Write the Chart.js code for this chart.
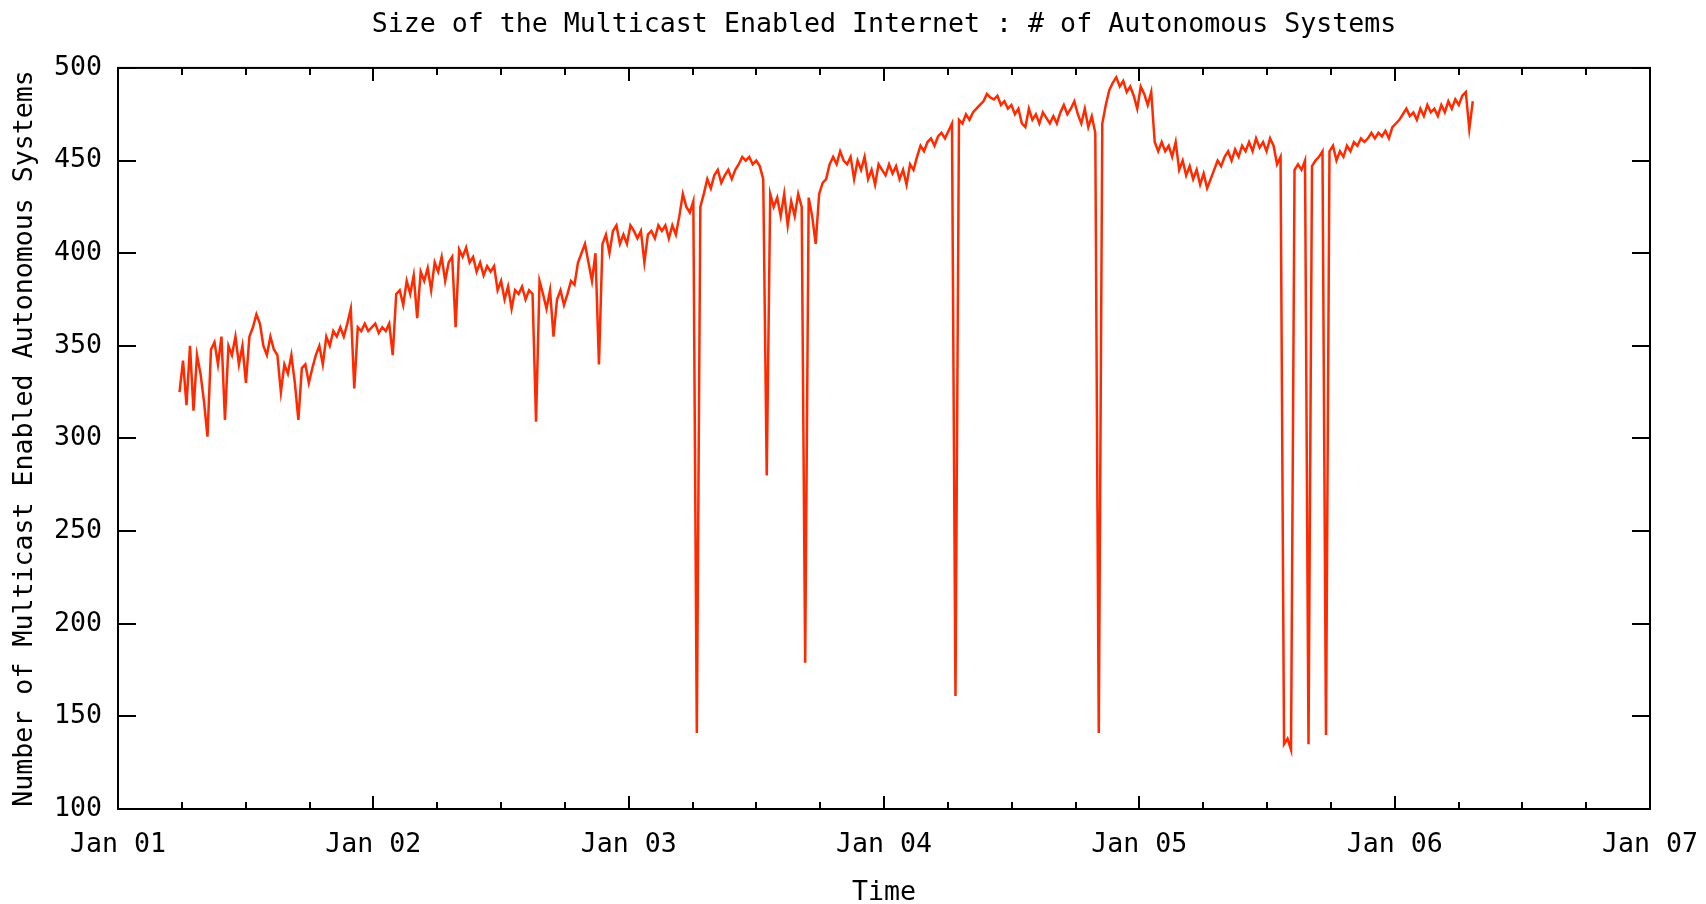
<!DOCTYPE html>
<html>
<head>
<meta charset="utf-8">
<title>Size of the Multicast Enabled Internet</title>
<script src="https://cdn.jsdelivr.net/npm/chart.js@4.4.1/dist/chart.umd.min.js"></script>
<style>
  html, body { margin: 0; padding: 0; background: #fff; }
  #wrap { width: 1706px; height: 904px; }
</style>
</head>
<body>
<div id="wrap"><canvas id="chart" width="1706" height="904"></canvas></div>
<script>
const chartTitle = "Size of the Multicast Enabled Internet : # of Autonomous Systems";
const xTitle = "Time";
const yTitle = "Number of Multicast Enabled Autonomous Systems";

const yearTicks = [2001, 2002, 2003, 2004, 2005, 2006, 2007];
const yTicks = [100, 150, 200, 250, 300, 350, 400, 450, 500];
const minorStep = 0.25;

// samples every 5 days, starting 88 days after Jan 1 2001
const firstDay = 88;
const stepDays = 5;
const asCounts = [
  325, 342, 318, 350, 315, 345, 335, 320, 301, 348,
  352, 340, 355, 310, 350, 345, 355, 340, 350, 330,
  355, 360, 367, 362, 350, 345, 355, 348, 345, 325,
  340, 335, 345, 330, 310, 338, 340, 330, 338, 345,
  350, 340, 355, 350, 358, 355, 360, 355, 362, 370,
  327, 360, 358, 362, 358, 360, 362, 357, 360, 358,
  362, 345, 378, 380, 372, 385, 378, 388, 365, 390,
  385, 392, 380, 395, 390, 398, 385, 395, 398, 360,
  402, 398, 403, 395, 398, 390, 395, 388, 393, 390,
  393, 380, 385, 375, 382, 370, 380, 378, 382, 375,
  380, 378, 309, 385, 378, 370, 380, 355, 375, 380,
  372, 378, 385, 383, 395, 400, 405, 395, 385, 400,
  340, 405, 410, 400, 412, 415, 405, 410, 405, 415,
  412, 408, 412, 395, 410, 412, 408, 415, 412, 415,
  408, 415, 410, 420, 432, 425, 422, 428, 141, 425,
  432, 440, 435, 442, 445, 438, 442, 445, 440, 445,
  448, 452, 450, 452, 448, 450, 447, 440, 280, 432,
  425, 430, 420, 432, 415, 428, 420, 432, 425, 179,
  430, 420, 405, 432, 438, 440, 448, 452, 448, 455,
  450, 448, 452, 440, 450, 445, 452, 440, 445, 437,
  448, 445, 442, 448, 443, 447, 440, 445, 437, 448,
  445, 452, 458, 455, 460, 462, 458, 463, 465, 462,
  466, 470, 161, 472, 470, 475, 472, 476, 478, 480,
  482, 486, 484, 483, 485, 480, 482, 478, 480, 475,
  478, 470, 468, 478, 472, 475, 470, 476, 473, 470,
  474, 470, 476, 480, 475, 478, 482, 475, 470, 478,
  468, 474, 465, 141, 470, 480, 488, 492, 495, 490,
  493, 487, 490, 485, 478, 490, 486, 480, 487, 460,
  455, 460, 455, 458, 452, 460, 445, 450, 442, 447,
  440, 445, 437, 443, 435, 440, 445, 450, 447, 452,
  455, 450, 456, 452, 458, 455, 460, 455, 462, 457,
  460, 455, 462, 458, 448, 452, 135, 138, 132, 445,
  448, 445, 450, 135, 447, 450, 452, 455, 140, 455,
  458, 450, 455, 452, 458, 455, 460, 458, 462, 460,
  462, 465, 462, 465, 463, 466, 462, 468, 470, 472,
  475, 478, 474, 476, 472, 478, 474, 480, 476, 478,
  474, 480, 476, 482, 478, 483, 480, 485, 487, 467,
  482
];

const points = asCounts.map((v, i) => ({
  x: yearTicks[0] + (firstDay + i * stepDays) / 365.25,
  y: v
}));

const monoFont = { family: "'DejaVu Sans Mono', monospace", size: 26.6, weight: 'normal' };

// gnuplot style frame with inward tics on all four sides
const frameTicks = {
  id: 'frameTicks',
  afterDatasetsDraw(chart) {
    const { ctx, chartArea: a, scales: { x, y } } = chart;
    ctx.save();
    ctx.strokeStyle = '#000';
    ctx.lineWidth = 2;
    ctx.beginPath();
    for (let v = yearTicks[0]; v <= yearTicks[yearTicks.length - 1] + 1e-9; v += minorStep) {
      const px = Math.round(x.getPixelForValue(v));
      const len = yearTicks.includes(Math.round(v * 100) / 100) ? 13 : 7;
      ctx.moveTo(px, a.bottom); ctx.lineTo(px, a.bottom - len);
      ctx.moveTo(px, a.top); ctx.lineTo(px, a.top + len);
    }
    yTicks.forEach(v => {
      const py = Math.round(y.getPixelForValue(v));
      ctx.moveTo(a.left, py); ctx.lineTo(a.left + 18, py);
      ctx.moveTo(a.right, py); ctx.lineTo(a.right - 18, py);
    });
    ctx.stroke();
    ctx.strokeRect(a.left, a.top, a.right - a.left, a.bottom - a.top);
    ctx.restore();
  }
};

new Chart(document.getElementById('chart'), {
  type: 'line',
  data: {
    datasets: [{
      data: points,
      borderColor: '#ff2a00',
      borderWidth: 2.5,
      pointRadius: 0,
      tension: 0,
      fill: false
    }]
  },
  options: {
    responsive: false,
    animation: false,
    devicePixelRatio: 1,
    layout: { padding: { left: 0, right: 56, top: 0, bottom: 0 } },
    plugins: {
      legend: { display: false },
      tooltip: { enabled: false },
      title: {
        display: true,
        fullSize: false,
        text: chartTitle,
        color: '#000',
        font: monoFont,
        padding: { top: 9, bottom: 27 }
      }
    },
    scales: {
      x: {
        type: 'linear',
        min: yearTicks[0],
        max: yearTicks[yearTicks.length - 1],
        afterBuildTicks: s => { s.ticks = yearTicks.map(v => ({ value: v })); },
        afterFit: s => { s.height = 95; s.paddingLeft = 0; s.paddingRight = 0; },
        grid: { display: false, drawTicks: false },
        border: { display: false },
        ticks: {
          color: '#000',
          font: monoFont,
          padding: 20,
          maxRotation: 0,
          autoSkip: false,
          callback: v => 'Jan ' + String(v).slice(2)
        },
        title: {
          display: true,
          text: xTitle,
          color: '#000',
          font: { ...monoFont, lineHeight: 0.8 },
          padding: { top: 0, bottom: 0 }
        }
      },
      y: {
        min: yTicks[0],
        max: yTicks[yTicks.length - 1],
        afterBuildTicks: s => { s.ticks = yTicks.map(v => ({ value: v })); },
        afterFit: s => { s.width = 118; },
        grid: { display: false, drawTicks: false },
        border: { display: false },
        ticks: { color: '#000', font: monoFont, padding: 16 },
        title: {
          display: true,
          text: yTitle,
          color: '#000',
          font: monoFont,
          padding: { top: 9, bottom: 0 }
        }
      }
    }
  },
  plugins: [frameTicks]
});
</script>
</body>
</html>
